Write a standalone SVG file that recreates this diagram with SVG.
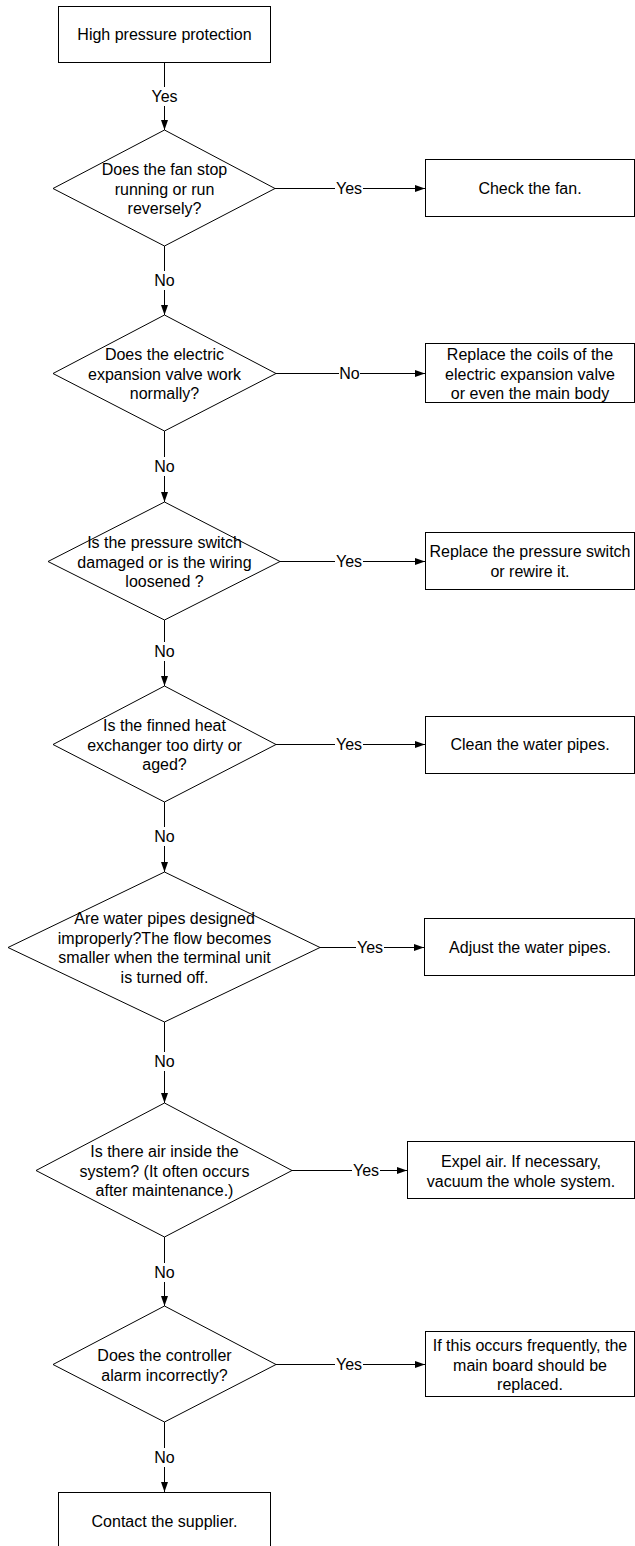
<svg xmlns="http://www.w3.org/2000/svg" width="635" height="1546" viewBox="0 0 635 1546">
<style>
.shape{fill:#fff;stroke:#000;stroke-width:1}
.t{font-family:"Liberation Sans",Arial,sans-serif;font-size:16px;fill:#000;text-anchor:middle}
.ln{stroke:#000;stroke-width:1;fill:none}
.ar{stroke:#000;stroke-width:1;fill:none;marker-end:url(#ah)}
</style>
<defs>
<marker id="ah" markerUnits="userSpaceOnUse" markerWidth="10" markerHeight="7" refX="10" refY="3.5" orient="auto">
<path d="M0,0 L10,3.5 L0,7 z" fill="#000"/>
</marker>
</defs>
<rect width="635" height="1546" fill="#fff"/>
<g id="connectors">
<line class="ln" x1="164.5" y1="62" x2="164.5" y2="87"/><line class="ar" x1="164.5" y1="106" x2="164.5" y2="130"/>
<text class="t" x="164.5" y="102">Yes</text>
<line class="ln" x1="164.5" y1="246" x2="164.5" y2="271"/><line class="ar" x1="164.5" y1="290" x2="164.5" y2="315"/>
<text class="t" x="164.5" y="286">No</text>
<line class="ln" x1="164.5" y1="431" x2="164.5" y2="457"/><line class="ar" x1="164.5" y1="476" x2="164.5" y2="502"/>
<text class="t" x="164.5" y="472">No</text>
<line class="ln" x1="164.5" y1="620" x2="164.5" y2="642"/><line class="ar" x1="164.5" y1="661" x2="164.5" y2="686"/>
<text class="t" x="164.5" y="657">No</text>
<line class="ln" x1="164.5" y1="802" x2="164.5" y2="827"/><line class="ar" x1="164.5" y1="846" x2="164.5" y2="872"/>
<text class="t" x="164.5" y="842">No</text>
<line class="ln" x1="164.5" y1="1022" x2="164.5" y2="1052"/><line class="ar" x1="164.5" y1="1071" x2="164.5" y2="1103"/>
<text class="t" x="164.5" y="1067">No</text>
<line class="ln" x1="164.5" y1="1237" x2="164.5" y2="1263"/><line class="ar" x1="164.5" y1="1282" x2="164.5" y2="1306"/>
<text class="t" x="164.5" y="1278">No</text>
<line class="ln" x1="164.5" y1="1422" x2="164.5" y2="1448"/><line class="ar" x1="164.5" y1="1467" x2="164.5" y2="1492"/>
<text class="t" x="164.5" y="1463">No</text>
<line class="ln" x1="275" y1="188.5" x2="335" y2="188.5"/><line class="ar" x1="363" y1="188.5" x2="425" y2="188.5"/>
<text class="t" x="349" y="194">Yes</text>
<line class="ln" x1="276" y1="373.5" x2="339" y2="373.5"/><line class="ar" x1="360" y1="373.5" x2="425" y2="373.5"/>
<text class="t" x="349.5" y="379">No</text>
<line class="ln" x1="280" y1="561.5" x2="335" y2="561.5"/><line class="ar" x1="363" y1="561.5" x2="425" y2="561.5"/>
<text class="t" x="349" y="567">Yes</text>
<line class="ln" x1="276" y1="744.5" x2="335" y2="744.5"/><line class="ar" x1="363" y1="744.5" x2="425" y2="744.5"/>
<text class="t" x="349" y="750">Yes</text>
<line class="ln" x1="320" y1="947.5" x2="356" y2="947.5"/><line class="ar" x1="384" y1="947.5" x2="424" y2="947.5"/>
<text class="t" x="370" y="953">Yes</text>
<line class="ln" x1="292" y1="1170.5" x2="352" y2="1170.5"/><line class="ar" x1="380" y1="1170.5" x2="407" y2="1170.5"/>
<text class="t" x="366" y="1176">Yes</text>
<line class="ln" x1="276" y1="1364.5" x2="335" y2="1364.5"/><line class="ar" x1="363" y1="1364.5" x2="425" y2="1364.5"/>
<text class="t" x="349" y="1370">Yes</text>
</g>
<g id="start">
<rect class="shape" x="58.5" y="6.5" width="212" height="56"/>
<text class="t" x="164.5" y="40">High pressure protection</text>
</g>
<g id="q1">
<polygon class="shape" points="164.5,130 275,188.5 164.5,246 53,188.5"/>
<text class="t" x="164.5" y="175">Does the fan stop</text>
<text class="t" x="164.5" y="194.5">running or run</text>
<text class="t" x="164.5" y="214">reversely?</text>
</g>
<g id="a1">
<rect class="shape" x="425.5" y="159.5" width="209" height="57"/>
<text class="t" x="530" y="194">Check the fan.</text>
</g>
<g id="q2">
<polygon class="shape" points="164.5,315 276,373.5 164.5,431 53,373.5"/>
<text class="t" x="164.5" y="360">Does the electric</text>
<text class="t" x="164.5" y="379.5">expansion valve work</text>
<text class="t" x="164.5" y="399">normally?</text>
</g>
<g id="a2">
<rect class="shape" x="425.5" y="343.5" width="209" height="59"/>
<text class="t" x="530" y="360">Replace the coils of the</text>
<text class="t" x="530" y="379.5">electric expansion valve</text>
<text class="t" x="530" y="399">or even the main body</text>
</g>
<g id="q3">
<polygon class="shape" points="164.5,502 280,561.5 164.5,620 48,561.5"/>
<text class="t" x="164.5" y="548">Is the pressure switch</text>
<text class="t" x="164.5" y="567.5">damaged or is the wiring</text>
<text class="t" x="164.5" y="587">loosened ?</text>
</g>
<g id="a3">
<rect class="shape" x="425.5" y="532.5" width="209" height="57"/>
<text class="t" x="530" y="557">Replace the pressure switch</text>
<text class="t" x="530" y="576.5">or rewire it.</text>
</g>
<g id="q4">
<polygon class="shape" points="164.5,686 276,744.5 164.5,802 53,744.5"/>
<text class="t" x="164.5" y="731">Is the finned heat</text>
<text class="t" x="164.5" y="750.5">exchanger too dirty or</text>
<text class="t" x="164.5" y="770">aged?</text>
</g>
<g id="a4">
<rect class="shape" x="425.5" y="716.5" width="209" height="57"/>
<text class="t" x="530" y="750">Clean the water pipes.</text>
</g>
<g id="q5">
<polygon class="shape" points="164.5,872 320,947.5 164.5,1022 8,947.5"/>
<text class="t" x="164.5" y="924">Are water pipes designed</text>
<text class="t" x="164.5" y="943.5">improperly?The flow becomes</text>
<text class="t" x="164.5" y="963">smaller when the terminal unit</text>
<text class="t" x="164.5" y="982.5">is turned off.</text>
</g>
<g id="a5">
<rect class="shape" x="424.5" y="918.5" width="210" height="57"/>
<text class="t" x="530" y="953">Adjust the water pipes.</text>
</g>
<g id="q6">
<polygon class="shape" points="164.5,1103 292,1170.5 164.5,1237 36,1170.5"/>
<text class="t" x="164.5" y="1157">Is there air inside the</text>
<text class="t" x="164.5" y="1176.5">system? (It often occurs</text>
<text class="t" x="164.5" y="1196">after maintenance.)</text>
</g>
<g id="a6">
<rect class="shape" x="407.5" y="1141.5" width="227" height="57"/>
<text class="t" x="521" y="1167">Expel air. If necessary,</text>
<text class="t" x="521" y="1186.5">vacuum the whole system.</text>
</g>
<g id="q7">
<polygon class="shape" points="164.5,1306 276,1364.5 164.5,1422 53,1364.5"/>
<text class="t" x="164.5" y="1361">Does the controller</text>
<text class="t" x="164.5" y="1380.5">alarm incorrectly?</text>
</g>
<g id="a7">
<rect class="shape" x="425.5" y="1331.5" width="209" height="65"/>
<text class="t" x="530" y="1351">If this occurs frequently, the</text>
<text class="t" x="530" y="1370.5">main board should be</text>
<text class="t" x="530" y="1390">replaced.</text>
</g>
<g id="end">
<rect class="shape" x="58.5" y="1492.5" width="212" height="60"/>
<text class="t" x="164.5" y="1527">Contact the supplier.</text>
</g>
</svg>
